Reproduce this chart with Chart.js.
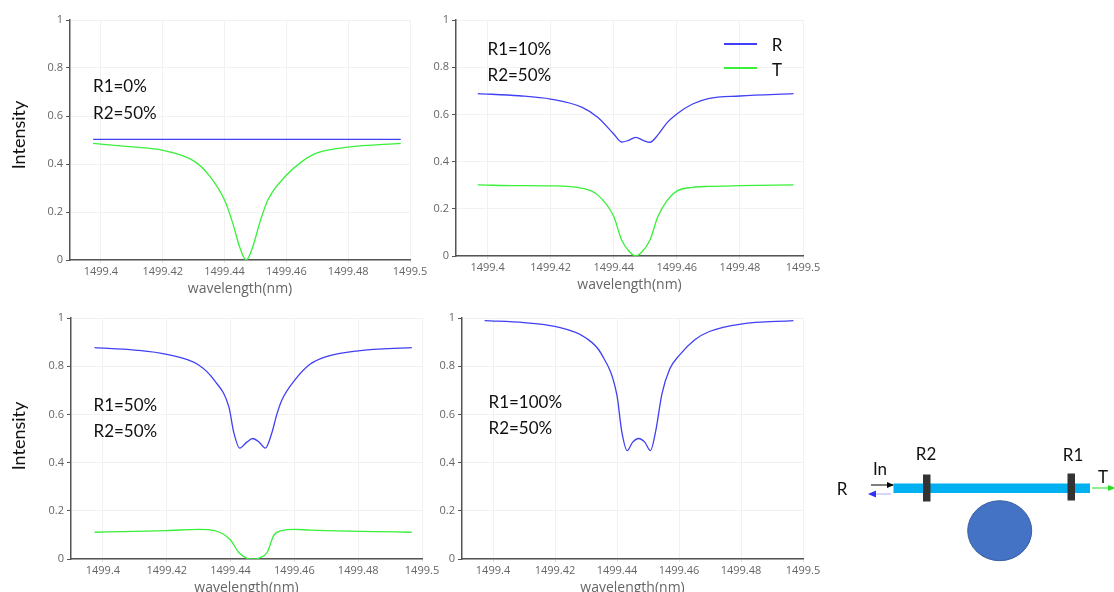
<!DOCTYPE html>
<html>
<head>
<meta charset="utf-8">
<style>
  html, body { margin: 0; padding: 0; background: #fff; }
  #page { position: relative; width: 1114px; height: 592px; overflow: hidden; font-family: Lato, sans-serif; color: #111; }
  #page canvas { position: absolute; }
  .note { position: absolute; font-size: 17px; line-height: 20px; white-space: nowrap; transform: translateY(-50%); }
  .ylab { position: absolute; font-size: 18px; line-height: 20px; white-space: nowrap; transform: translate(-50%, -50%) rotate(-90deg); }
  .tag { position: absolute; font-size: 17px; line-height: 20px; transform: translate(-50%, -50%); }
  .key { position: absolute; width: 33px; height: 2px; }
  svg { position: absolute; left: 0; top: 0; }
</style>
</head>
<body>
<div id="page"></div>
<script src="https://cdn.jsdelivr.net/npm/chart.js@4"></script>
<script>
const xTicks = [1499.4, 1499.42, 1499.44, 1499.46, 1499.48, 1499.5];
const yTicks = [0, 0.2, 0.4, 0.6, 0.8, 1];

// panel 1: R1=0%
const wave1R = [1499.3975, 1499.497];
const refl1 = [0.503, 0.503];
const wave1T = [1499.3975, 1499.41, 1499.42, 1499.43, 1499.435, 1499.44, 1499.4425, 1499.445, 1499.447, 1499.449, 1499.4515, 1499.454, 1499.46, 1499.465, 1499.47, 1499.48, 1499.497];
const trans1 = [0.486, 0.471, 0.457, 0.413, 0.353, 0.25, 0.16, 0.05, 0, 0.05, 0.16, 0.25, 0.353, 0.41, 0.446, 0.47, 0.486];

// panel 2: R1=10%
const wave2R = [1499.3969, 1499.41, 1499.42, 1499.43, 1499.435, 1499.44, 1499.4425, 1499.4445, 1499.447, 1499.4495, 1499.4515, 1499.454, 1499.457, 1499.46, 1499.465, 1499.47, 1499.48, 1499.497];
const refl2 = [0.688, 0.679, 0.665, 0.63, 0.587, 0.517, 0.483, 0.489, 0.503, 0.489, 0.482, 0.513, 0.566, 0.602, 0.644, 0.667, 0.678, 0.688];
const wave2T = [1499.3969, 1499.41, 1499.42, 1499.43, 1499.435, 1499.44, 1499.4425, 1499.445, 1499.447, 1499.449, 1499.4515, 1499.454, 1499.457, 1499.46, 1499.465, 1499.47, 1499.48, 1499.497];
const trans2 = [0.301, 0.298, 0.297, 0.287, 0.258, 0.167, 0.068, 0.018, 0, 0.018, 0.068, 0.167, 0.237, 0.275, 0.291, 0.295, 0.298, 0.301];

// panel 3: R1=50%
const wave3R = [1499.3974, 1499.41, 1499.42, 1499.43, 1499.435, 1499.4395, 1499.441, 1499.4429, 1499.445, 1499.447, 1499.449, 1499.4509, 1499.453, 1499.4545, 1499.456, 1499.46, 1499.465, 1499.47, 1499.48, 1499.4968];
const refl3 = [0.877, 0.867, 0.849, 0.805, 0.74, 0.63, 0.526, 0.46, 0.484, 0.5, 0.484, 0.46, 0.526, 0.6, 0.657, 0.74, 0.809, 0.84, 0.864, 0.877];
const wave3T = [1499.3974, 1499.41, 1499.42, 1499.43, 1499.435, 1499.44, 1499.4425, 1499.445, 1499.447, 1499.449, 1499.4515, 1499.4535, 1499.456, 1499.46, 1499.465, 1499.47, 1499.48, 1499.4968];
const trans3 = [0.111, 0.115, 0.118, 0.123, 0.118, 0.079, 0.028, 0.004, 0, 0.004, 0.028, 0.097, 0.118, 0.123, 0.12, 0.118, 0.115, 0.111];

// panel 4: R1=100%
const wave4R = [1499.3973, 1499.41, 1499.42, 1499.43, 1499.435, 1499.44, 1499.4415, 1499.4433, 1499.445, 1499.447, 1499.449, 1499.4508, 1499.4525, 1499.4545, 1499.457, 1499.46, 1499.465, 1499.47, 1499.48, 1499.4969];
const refl4 = [0.989, 0.981, 0.965, 0.917, 0.85, 0.678, 0.532, 0.45, 0.484, 0.5, 0.484, 0.45, 0.532, 0.685, 0.788, 0.844, 0.909, 0.945, 0.975, 0.989];

const notes1 = ["R1=0%", "R2=50%"];
const notes2 = ["R1=10%", "R2=50%"];
const notes3 = ["R1=50%", "R2=50%"];
const notes4 = ["R1=100%", "R2=50%"];

const blue = "#4040f4";
const green = "#38f038";
const page = document.getElementById("page");

function pairs(xs, ys) {
  return xs.map((x, i) => ({ x, y: ys[i] }));
}

function series(label, color, xs, ys) {
  return {
    label,
    data: pairs(xs, ys),
    borderColor: color,
    borderWidth: 1.3,
    pointRadius: 0,
    cubicInterpolationMode: "monotone",
    fill: false
  };
}

// plot rectangle in page pixels, canvas gets a margin around it for ticks and title
function addPanel(box, datasets) {
  const padL = 60, padT = 10, padR = 34, padB = 38;
  const canvas = document.createElement("canvas");
  canvas.style.left = (box.left - padL) + "px";
  canvas.style.top = (box.top - padT) + "px";
  canvas.style.width = (box.right - box.left + padL + padR) + "px";
  canvas.style.height = (box.bottom - box.top + padT + padB) + "px";
  canvas.width = box.right - box.left + padL + padR;
  canvas.height = box.bottom - box.top + padT + padB;
  page.appendChild(canvas);

  new Chart(canvas.getContext("2d"), {
    type: "line",
    data: { datasets },
    options: {
      responsive: false,
      animation: false,
      layout: { padding: { top: padT, right: padR, left: 0, bottom: 0 } },
      plugins: { legend: { display: false }, tooltip: { enabled: false } },
      scales: {
        x: {
          type: "linear",
          min: 1499.39,
          max: 1499.5,
          afterBuildTicks: axis => { axis.ticks = xTicks.map(value => ({ value })); },
          afterFit: axis => { axis.height = padB; },
          border: { color: "#555", width: 1.5 },
          grid: { color: "#f1f1f1", tickColor: "#ddd", tickLength: 3 },
          ticks: {
            autoSkip: false,
            maxRotation: 0,
            padding: 2,
            color: "#666",
            font: { family: "'Open Sans'", size: 11 },
            callback: v => String(v)
          },
          title: {
            display: true,
            text: "wavelength(nm)",
            color: "#666",
            padding: { top: 0, bottom: 1 },
            font: { family: "'Open Sans'", size: 14 }
          }
        },
        y: {
          min: 0,
          max: 1,
          afterBuildTicks: axis => { axis.ticks = yTicks.map(value => ({ value })); },
          afterFit: axis => { axis.width = padL; },
          border: { color: "#555", width: 1.5 },
          grid: { color: "#f1f1f1", tickColor: "#555", tickLength: 4 },
          ticks: {
            padding: 3,
            color: "#666",
            font: { family: "'Open Sans'", size: 11 },
            callback: v => String(v)
          }
        }
      }
    }
  });
}

addPanel({ left: 70, right: 410, top: 19.5, bottom: 260 }, [
  series("R", blue, wave1R, refl1),
  series("T", green, wave1T, trans1)
]);
addPanel({ left: 456, right: 803, top: 20, bottom: 256 }, [
  series("R", blue, wave2R, refl2),
  series("T", green, wave2T, trans2)
]);
addPanel({ left: 70.5, right: 422, top: 317.5, bottom: 558.5 }, [
  series("R", blue, wave3R, refl3),
  series("T", green, wave3T, trans3)
]);
addPanel({ left: 462, right: 803, top: 317.5, bottom: 558.5 }, [
  series("R", blue, wave4R, refl4)
]);

function addText(cls, text, left, top) {
  const el = document.createElement("div");
  el.className = cls;
  el.textContent = text;
  el.style.left = left + "px";
  el.style.top = top + "px";
  page.appendChild(el);
}

function addNotes(lines, left, top1, top2) {
  addText("note", lines[0], left, top1);
  addText("note", lines[1], left, top2);
}

addNotes(notes1, 93, 86, 113);
addNotes(notes2, 487.5, 49, 75);
addNotes(notes3, 93.5, 405, 431);
addNotes(notes4, 488.5, 402, 428);

addText("ylab", "Intensity", 18, 135);
addText("ylab", "Intensity", 18, 436);

// legend, it sits on top of panel 2
[["R", blue, 44, 45], ["T", green, 68, 70]].forEach(([name, color, lineY, textY]) => {
  const key = document.createElement("div");
  key.className = "key";
  key.style.left = "724px";
  key.style.top = (lineY - 1) + "px";
  key.style.background = color;
  page.appendChild(key);
  addText("tag", name, 777, textY);
});

// device sketch bottom right
page.insertAdjacentHTML("beforeend", `
<svg width="1114" height="592">
  <defs>
    <marker id="headK" markerWidth="7" markerHeight="6" refX="6" refY="3" orient="auto"><path d="M0,0 L7,3 L0,6 z" fill="#000"/></marker>
    <marker id="headB" markerWidth="7" markerHeight="6" refX="6" refY="3" orient="auto"><path d="M0,0 L7,3 L0,6 z" fill="#3030f0"/></marker>
    <marker id="headG" markerWidth="7" markerHeight="6" refX="6" refY="3" orient="auto"><path d="M0,0 L7,3 L0,6 z" fill="#20e020"/></marker>
  </defs>
  <rect x="893.5" y="483.5" width="196.5" height="9.5" fill="#00b0f0"/>
  <rect x="923" y="474.5" width="7.5" height="27" fill="#333"/>
  <rect x="1067.5" y="473.5" width="7.5" height="27" fill="#333"/>
  <ellipse cx="999.7" cy="530.7" rx="32" ry="30" fill="#4472c4" stroke="#3a5f9e"/>
  <line x1="871" y1="485" x2="893" y2="485" stroke="#000" stroke-width="1" marker-end="url(#headK)"/>
  <line x1="891" y1="494" x2="869" y2="494" stroke="#b8b8fa" stroke-width="1.2" marker-end="url(#headB)"/>
  <line x1="1092" y1="488" x2="1114" y2="488" stroke="#20e020" stroke-width="1" marker-end="url(#headG)"/>
</svg>`);

addText("tag", "R2", 926, 454);
addText("tag", "R1", 1073, 455);
addText("tag", "In", 880, 469);
addText("tag", "T", 1103, 477);
addText("tag", "R", 842, 489);
</script>
</body>
</html>
